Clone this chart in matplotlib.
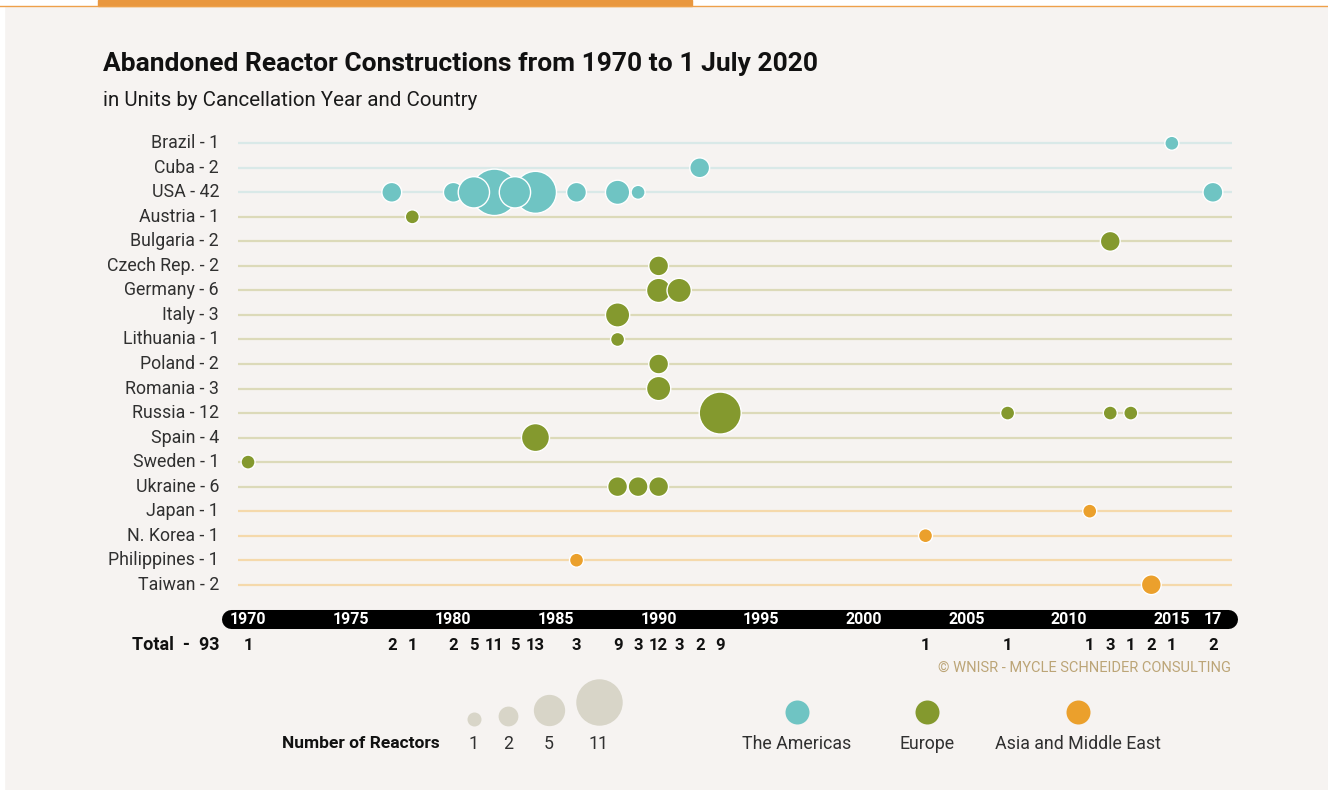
import matplotlib.pyplot as plt
import matplotlib.transforms as mtransforms
import numpy as np

# dados
paises = ['Brazil', 'Cuba', 'USA', 'Austria', 'Bulgaria', 'Czech Rep.', 'Germany',
          'Italy', 'Lithuania', 'Poland', 'Romania', 'Russia', 'Spain', 'Sweden',
          'Ukraine', 'Japan', 'N. Korea', 'Philippines', 'Taiwan']
regioes = ['The Americas'] * 3 + ['Europe'] * 12 + ['Asia and Middle East'] * 4
anos = [[2015], [1992], [1977, 1980, 1981, 1982, 1983, 1984, 1986, 1988, 1989, 2017],
        [1978], [2012], [1990], [1990, 1991], [1988], [1988], [1990], [1990],
        [1993, 2007, 2012, 2013], [1984], [1970], [1988, 1989, 1990], [2011], [2003],
        [1986], [2014]]
unidades = [[1], [2], [2, 2, 5, 11, 5, 9, 2, 3, 1, 2], [1], [2], [2], [3, 3], [3], [1],
            [2], [3], [9, 1, 1, 1], [4], [1], [2, 2, 2], [1], [1], [1], [2]]
anos_eixo = [1970, 1975, 1980, 1985, 1990, 1995, 2000, 2005, 2010, 2015, 2017]
rotulos_eixo = ['1970', '1975', '1980', '1985', '1990', '1995', '2000', '2005', '2010', '2015', '17']
legenda_tamanhos = [1, 2, 5, 11]

cores = {'The Americas': '#6fc4c3', 'Europe': '#84992e', 'Asia and Middle East': '#eba02c'}
cores_linha = {'The Americas': '#d9e9e8', 'Europe': '#dcdab9', 'Asia and Middle East': '#f5d9ab'}
fundo = '#f6f3f1'

plt.rcParams['font.family'] = ['Roboto', 'DejaVu Sans']

W, H = 1328, 790
fig = plt.figure(figsize=(W / 100, H / 100), dpi=100, facecolor=fundo)

def fx(x):
    return x / W

def fy(y):
    return 1 - y / H

def tamanho(n):
    # raio ~7 px * sqrt(n), s em pt^2
    return (1.44 * 7.0) ** 2 * np.asarray(n)

# eixo principal
ax = fig.add_axes([fx(238), fy(597), fx(1232) - fx(238), (597 - 131) / H])
ax.set_xlim(1969.51, 2017.93)
ax.set_ylim(len(paises) - 0.5, -0.5)
ax.axis('off')

for i, reg in enumerate(regioes):
    ax.axhline(i, color=cores_linha[reg], lw=1.6, zorder=1)

xs, ys, ss, cs, ordem = [], [], [], [], []
for i, (a, u) in enumerate(zip(anos, unidades)):
    for ano, n in zip(a, u):
        xs.append(ano)
        ys.append(i)
        ss.append(n)
        cs.append(cores[regioes[i]])
        ordem.append((-n if n > 5 else 0, ano))
idx = sorted(range(len(xs)), key=lambda k: ordem[k])
ax.scatter(np.array(xs)[idx], np.array(ys)[idx], s=tamanho(np.array(ss)[idx]),
           c=np.array(cs)[idx], edgecolors='white', linewidths=1.0, zorder=3, clip_on=False)

# rótulos dos países
tp = mtransforms.blended_transform_factory(fig.transFigure, ax.transData)
for i, (p, u) in enumerate(zip(paises, unidades)):
    ax.text(fx(219), i, f'{p} - {sum(u)}', ha='right', va='center', fontsize=12.8,
            color='#303030', transform=tp, clip_on=False)

# barra preta dos anos
bt = mtransforms.blended_transform_factory(ax.transData, fig.transFigure)
ax.plot([1969.15, 2017.73], [fy(619), fy(619)], color='black', lw=13.7,
        solid_capstyle='round', transform=bt, clip_on=False, zorder=2)
for ano, rot in zip(anos_eixo, rotulos_eixo):
    ax.text(ano, fy(619), rot, transform=bt, ha='center', va='center', color='white',
            fontsize=11.5, fontweight='bold')

# totais por ano
todos = {}
for a, u in zip(anos, unidades):
    for ano, n in zip(a, u):
        todos[ano] = todos.get(ano, 0) + n
for ano, n in sorted(todos.items()):
    ax.text(ano, fy(645), str(n), transform=bt, ha='center', va='center', color='#111111',
            fontsize=12, fontweight='bold')
fig.text(fx(219), fy(645), f'Total  -  {sum(todos.values())}', ha='right', va='center',
         fontsize=13, fontweight='bold', color='#111111')

# título
fig.text(fx(103), fy(64), 'Abandoned Reactor Constructions from 1970 to 1 July 2020',
         fontsize=19, fontweight='bold', va='center', color='#111111')
fig.text(fx(103), fy(101), 'in Units by Cancellation Year and Country',
         fontsize=14.8, va='center', color='#1a1a1a')
fig.text(fx(1231), fy(668), '© WNISR - MYCLE SCHNEIDER CONSULTING', ha='right', va='center',
         fontsize=10.5, color='#bca577')

# camada de decoração / legenda em pixels
lg = fig.add_axes([0, 0, 1, 1], facecolor='none')
lg.set_xlim(0, W)
lg.set_ylim(H, 0)
lg.axis('off')
lg.add_patch(plt.Rectangle((0, 0), W, 6, color='white', zorder=0))
lg.add_patch(plt.Rectangle((0, 0), 4, H, color='white', zorder=0))
lg.add_patch(plt.Rectangle((98, 0), 692 - 98, 6, color='#e9973f', zorder=1))
lg.plot([0, W], [6, 6], color='#eea04a', lw=1.0)

leg_x = [474, 508, 549, 599]
for n, x in zip(legenda_tamanhos, leg_x):
    lg.scatter([x], [725.5 - 7.0 * np.sqrt(n)], s=tamanho(n), color='#d8d5c8', lw=0)
    lg.text(x, 744, str(n), ha='center', va='center', fontsize=12.8, color='#303030')
lg.text(440, 744, 'Number of Reactors', ha='right', va='center', fontsize=12.5,
        fontweight='bold', color='#111111')

for reg, x in zip(['The Americas', 'Europe', 'Asia and Middle East'], [797, 927, 1078]):
    lg.scatter([x], [712], s=(1.44 * 12) ** 2, color=cores[reg], lw=0)
    lg.text(x, 744, reg, ha='center', va='center', fontsize=12.8, color='#303030')

fig.savefig('out.png', dpi=100, facecolor=fundo)
